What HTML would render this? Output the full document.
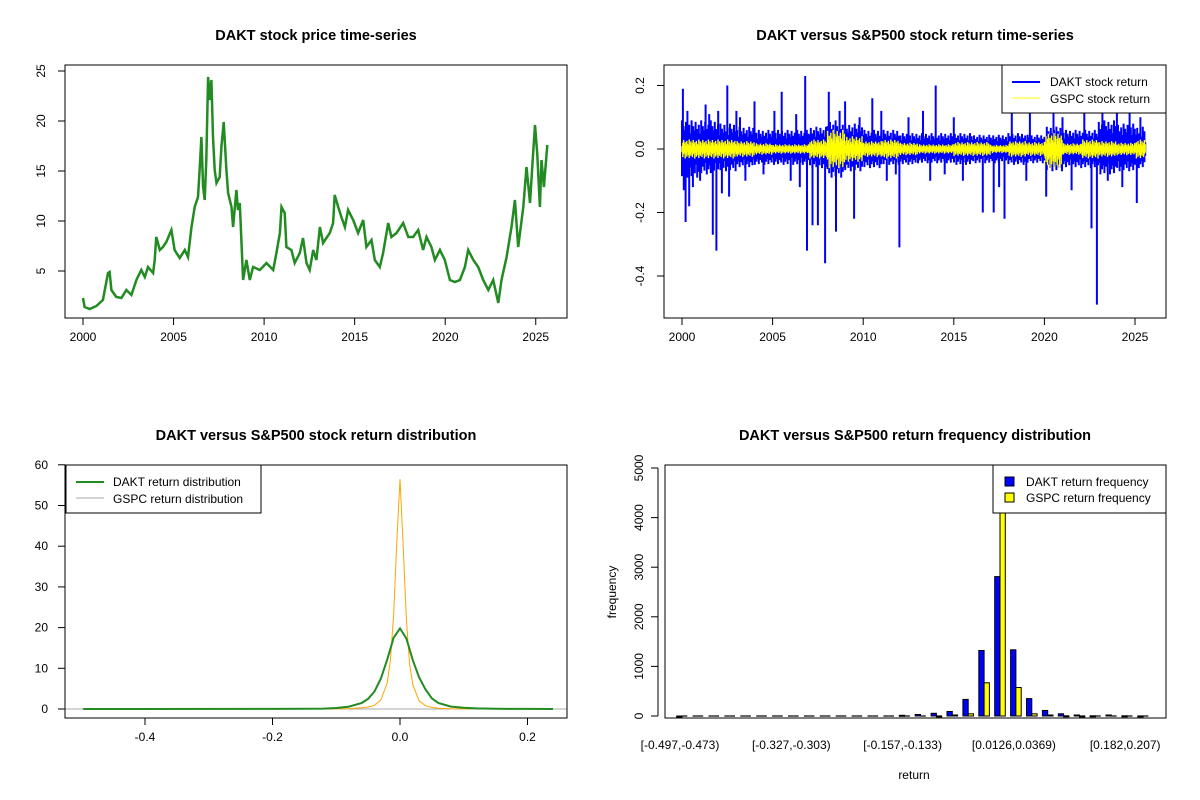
<!DOCTYPE html>
<html><head><meta charset="utf-8"><style>
html,body{margin:0;padding:0;background:#fff}
svg{display:block;font-family:"Liberation Sans",Arial,sans-serif}
</style></head><body>
<svg id="chart" width="1200" height="800" viewBox="0 0 1200 800"></svg>
<script>
// ---- Panel 1 data: DAKT price ----
const priceYears=[2000.00,2000.09,2000.37,2000.74,2001.10,2001.38,2001.47,2001.57,2001.84,2002.12,2002.39,2002.67,2002.95,2003.22,2003.41,2003.59,2003.87,2003.96,2004.05,2004.24,2004.42,2004.60,2004.88,2005.06,2005.34,2005.62,2005.80,2005.99,2006.17,2006.35,2006.45,2006.54,2006.63,2006.72,2006.81,2006.91,2007.00,2007.09,2007.18,2007.27,2007.37,2007.55,2007.64,2007.77,2007.92,2008.01,2008.20,2008.29,2008.47,2008.56,2008.66,2008.75,2008.84,2009.02,2009.21,2009.39,2009.76,2010.13,2010.50,2010.68,2010.87,2010.96,2011.14,2011.23,2011.51,2011.69,2011.97,2012.15,2012.34,2012.52,2012.71,2012.89,2013.08,2013.26,2013.63,2013.81,2013.90,2014.09,2014.27,2014.46,2014.64,2014.92,2015.19,2015.47,2015.65,2015.93,2016.11,2016.39,2016.57,2016.85,2017.03,2017.31,2017.68,2017.96,2018.23,2018.51,2018.78,2018.97,2019.24,2019.43,2019.71,2019.98,2020.26,2020.53,2020.81,2021.09,2021.27,2021.55,2021.82,2022.10,2022.38,2022.65,2022.93,2023.11,2023.39,2023.66,2023.85,2024.03,2024.31,2024.49,2024.68,2024.83,2024.96,2025.08,2025.23,2025.32,2025.45,2025.64];
const priceValues=[2.3,1.4,1.2,1.5,2.1,4.8,4.9,3.1,2.4,2.3,3.1,2.6,4.1,5.1,4.4,5.4,4.8,6.1,8.4,7.1,7.4,7.9,9.1,7.1,6.3,7.1,6.4,9.4,11.4,12.4,15.4,18.4,13.4,12.1,16.1,24.4,22.1,24.1,18.4,15.1,13.8,14.4,17.4,19.9,15.1,12.8,11.4,9.4,13.1,11.1,11.8,7.8,4.1,6.1,4.1,5.4,5.1,5.8,5.1,6.8,8.8,11.4,10.8,7.4,7.1,5.8,6.8,8.3,5.8,5.1,7.1,6.1,9.4,7.8,8.8,9.8,12.6,11.4,10.4,9.4,11.1,10.1,8.8,10.1,7.4,8.1,6.1,5.4,6.8,9.8,8.4,8.8,9.8,8.4,8.4,9.1,7.1,8.4,7.4,6.1,7.1,6.1,4.1,3.9,4.1,5.4,7.1,6.1,5.4,4.1,3.1,4.1,1.8,4.1,6.4,9.4,12.1,7.4,11.4,15.4,11.8,16.1,19.6,16.8,11.4,16.1,13.4,17.6];
const p1XTicks=[2000,2005,2010,2015,2020,2025];
const p1YTicks=[5,10,15,20,25];

// ---- Panel 2 data: returns ----
const envYears=[2000,2001,2002,2003,2004,2005,2006,2007,2008,2009,2010,2011,2012,2013,2014,2015,2016,2017,2018,2019,2020,2021,2022,2023,2024,2025];
const daktHi=[0.09,0.09,0.08,0.07,0.06,0.06,0.06,0.07,0.09,0.08,0.06,0.06,0.05,0.05,0.05,0.05,0.045,0.045,0.05,0.045,0.07,0.06,0.06,0.09,0.08,0.07];
const daktLo=[-0.09,-0.08,-0.07,-0.06,-0.05,-0.05,-0.05,-0.06,-0.09,-0.07,-0.06,-0.05,-0.05,-0.045,-0.045,-0.05,-0.045,-0.045,-0.05,-0.045,-0.07,-0.06,-0.06,-0.08,-0.07,-0.06];
const gspcHi=[0.03,0.03,0.03,0.025,0.018,0.015,0.015,0.03,0.06,0.04,0.025,0.03,0.02,0.015,0.015,0.022,0.022,0.013,0.025,0.022,0.05,0.018,0.03,0.025,0.02,0.03];
const gspcLo=[-0.03,-0.03,-0.03,-0.025,-0.018,-0.015,-0.015,-0.03,-0.06,-0.04,-0.025,-0.03,-0.02,-0.015,-0.015,-0.022,-0.022,-0.013,-0.025,-0.022,-0.06,-0.018,-0.03,-0.025,-0.02,-0.03];
const spikeYears=[2000.05,2000.1,2000.2,2000.3,2000.4,2000.6,2001.0,2001.3,2001.5,2001.7,2001.9,2002.0,2002.2,2002.5,2002.6,2003.0,2003.2,2003.5,2004.0,2004.5,2005.1,2005.5,2006.0,2006.3,2006.5,2006.8,2006.9,2007.2,2007.5,2007.9,2008.1,2008.5,2008.7,2009.0,2009.5,2009.8,2010.5,2011.0,2011.3,2011.8,2012.0,2012.5,2013.3,2013.7,2014.0,2014.5,2015.0,2015.5,2016.6,2017.2,2017.5,2017.8,2018.2,2019.0,2019.2,2020.1,2020.5,2021.0,2021.5,2022.2,2022.6,2022.9,2023.2,2023.5,2024.0,2024.3,2024.7,2025.1,2025.3];
const spikeValues=[0.19,-0.13,-0.23,0.12,-0.18,-0.12,-0.1,0.14,0.11,-0.27,-0.32,0.12,-0.14,0.2,-0.15,0.12,0.1,-0.1,0.15,-0.08,0.12,0.18,-0.1,0.11,-0.12,0.23,-0.32,-0.24,-0.24,-0.36,0.18,-0.26,0.12,0.15,-0.22,0.1,0.16,0.12,-0.1,-0.08,-0.31,0.1,0.12,-0.1,0.2,-0.08,0.1,-0.1,-0.2,-0.2,-0.12,-0.22,0.12,-0.1,0.13,-0.15,0.16,0.1,-0.13,0.12,-0.25,-0.49,0.18,-0.1,0.12,-0.12,0.18,-0.17,0.1];
const p2YTicks=[-0.4,-0.2,0.0,0.2];

// ---- Panel 3 data: densities ----
const daktDensX=[-0.497,-0.2,-0.15,-0.12,-0.1,-0.08,-0.06,-0.05,-0.04,-0.03,-0.02,-0.01,0,0.01,0.02,0.03,0.04,0.05,0.06,0.08,0.1,0.12,0.15,0.2,0.24];
const daktDensY=[0,0.02,0.05,0.1,0.25,0.6,1.5,2.5,4.3,7.5,12.2,17.5,19.8,17.3,12.0,7.8,4.8,2.6,1.5,0.6,0.3,0.15,0.05,0.02,0];
const gspcDensX=[-0.12,-0.08,-0.06,-0.05,-0.04,-0.03,-0.02,-0.015,-0.01,-0.005,0,0.005,0.01,0.015,0.02,0.03,0.04,0.05,0.06,0.08,0.11];
const gspcDensY=[0,0.1,0.3,0.5,0.9,2.2,6.5,12,23,41,56.5,40,22,11,6,2,0.8,0.4,0.2,0.05,0];
const p3XTicks=[-0.4,-0.2,0.0,0.2];
const p3YTicks=[0,10,20,30,40,50,60];

// ---- Panel 4 data: histogram ----
const binLabels=["[-0.497,-0.473)","[-0.327,-0.303)","[-0.157,-0.133)","[0.0126,0.0369)","[0.182,0.207)"];
const binLabelIdx=[0,7,14,21,28];
const daktFreq=[1,0,0,0,0,0,0,0,0,0,0,0,0,0,15,30,55,90,335,1320,2810,1335,350,110,45,20,5,20,5,2];
const gspcFreq=[0,0,0,0,0,0,0,0,0,0,0,0,0,0,0,0,3,20,45,670,4350,575,45,20,5,2,0,0,0,0];
const p4YTicks=[0,1000,2000,3000,4000,5000];

const NS="http://www.w3.org/2000/svg";
const svg=document.getElementById('chart');
function mk(tag,attrs,parent){const e=document.createElementNS(NS,tag);for(const k in attrs)e.setAttribute(k,attrs[k]);(parent||svg).appendChild(e);return e;}
function txt(s,x,y,attrs,parent){const t=mk('text',Object.assign({x:x,y:y,'font-size':12,fill:'#000'},attrs||{}),parent);t.textContent=s;return t;}
function group(name){const g=mk('g',{});return g;}
function fmt(v){return v===0?"0.0":v.toFixed(1);}

// ======== Panel 1 ========
(function(){
 const g=group('price-panel');
 const L=65,R=567,T=65,B=318;
 const sx=y=>83+(y-2000)*18.11, sy=v=>271-(v-5)*10;
 let pts=priceYears.map((y,i)=>sx(y).toFixed(1)+','+sy(priceValues[i]).toFixed(1)).join(' ');
 const line=mk('polyline',{points:pts,fill:'none',stroke:'#228B22','stroke-width':2.5,'stroke-linejoin':'miter'},g);
 
 
 const box=mk('rect',{x:L,y:T,width:R-L,height:B-T,fill:'none',stroke:'#000'},g);
 
 
 const xa=group('x-axis');g.appendChild(xa);
 mk('line',{x1:sx(2000),x2:sx(2025),y1:B,y2:B,stroke:'#000'},xa);
 p1XTicks.forEach(t=>{mk('line',{x1:sx(t),x2:sx(t),y1:B,y2:B+7,stroke:'#000'},xa);txt(String(t),sx(t),B+23,{'text-anchor':'middle'},xa);});
 const ya=group('y-axis');g.appendChild(ya);
 mk('line',{x1:L,x2:L,y1:sy(5),y2:sy(25),stroke:'#000'},ya);
 p1YTicks.forEach(t=>{mk('line',{x1:L-7,x2:L,y1:sy(t),y2:sy(t),stroke:'#000'},ya);txt(String(t),0,0,{'text-anchor':'middle',transform:`translate(${L-20},${sy(t)}) rotate(-90)`},ya);});
 const ti=txt('DAKT stock price time-series',316,40,{'text-anchor':'middle','font-weight':'bold','font-size':14.5},g);
 
 
})();

// ======== Panel 2 ========
(function(){
 const g=group('returns-panel');
 const L=664,R=1166,T=65,B=318;
 const sx=y=>682+(y-2000)*18.12, sy=v=>149-v*317.5;
 const x0=sx(2000), x1=sx(2025.6);
 const pat=[1,0.45,0.8,0.3,0.65,0.95,0.5,0.7,0.35,0.85,0.55,0.4];
 let dp='', gp='', n=0;
 for(let x=x0;x<=x1;x+=0.8,n++){
  const yr=2000+(x-682)/18.12;
  const i=Math.min(envYears.length-1,Math.max(0,Math.floor(yr-2000)));
  const fa=pat[n%pat.length], fb=pat[(n+5)%pat.length], fc=pat[(n+3)%pat.length], fd=pat[(n+8)%pat.length];
  dp+=`M${x.toFixed(1)},${sy(daktHi[i]*fa).toFixed(1)}V${sy(daktLo[i]*fb).toFixed(1)}`;
  gp+=`M${x.toFixed(1)},${sy(gspcHi[i]*fc).toFixed(1)}V${sy(gspcLo[i]*fd).toFixed(1)}`;
 }
 spikeYears.forEach((y,i)=>{dp+=`M${sx(y).toFixed(1)},${sy(0)}V${sy(spikeValues[i]).toFixed(1)}`;});
 const d=mk('path',{d:dp,stroke:'#0000FF','stroke-width':2,fill:'none'},g);
 
 
 const gs=mk('path',{d:gp,stroke:'#FFFF00','stroke-width':1.4,fill:'none'},g);
 
 
 const box=mk('rect',{x:L,y:T,width:R-L,height:B-T,fill:'none',stroke:'#000'},g);
 
 
 const xa=group('x-axis');g.appendChild(xa);
 mk('line',{x1:sx(2000),x2:sx(2025),y1:B,y2:B,stroke:'#000'},xa);
 p1XTicks.forEach(t=>{mk('line',{x1:sx(t),x2:sx(t),y1:B,y2:B+7,stroke:'#000'},xa);txt(String(t),sx(t),B+23,{'text-anchor':'middle'},xa);});
 const ya=group('y-axis');g.appendChild(ya);
 mk('line',{x1:L,x2:L,y1:sy(-0.4),y2:sy(0.2),stroke:'#000'},ya);
 p2YTicks.forEach(t=>{mk('line',{x1:L-7,x2:L,y1:sy(t),y2:sy(t),stroke:'#000'},ya);txt(fmt(t),0,0,{'text-anchor':'middle',transform:`translate(${L-20},${sy(t)}) rotate(-90)`},ya);});
 const lg=group('legend');g.appendChild(lg);
 mk('rect',{x:1002,y:65,width:164,height:48,fill:'#fff',stroke:'#000'},lg);
 mk('line',{x1:1012,x2:1040,y1:82,y2:82,stroke:'#0000FF','stroke-width':2},lg);
 mk('line',{x1:1012,x2:1040,y1:98,y2:98,stroke:'#FFFF00','stroke-width':1},lg);
 txt('DAKT stock return',1050,86,{},lg);
 txt('GSPC stock return',1050,103,{},lg);
 const ti=txt('DAKT versus S&P500 stock return time-series',915,40,{'text-anchor':'middle','font-weight':'bold','font-size':14.5},g);
 
 
})();

// ======== Panel 3 ========
(function(){
 const g=group('density-panel');
 const L=65,R=567,T=465,B=718;
 const sx=v=>400+v*637.5, sy=v=>709-v*4.07;
 const base=mk('line',{x1:L,x2:R,y1:sy(0),y2:sy(0),stroke:'#aaa'},g);
 
 
 const gl=mk('polyline',{points:gspcDensX.map((x,i)=>sx(x).toFixed(1)+','+sy(gspcDensY[i]).toFixed(1)).join(' '),fill:'none',stroke:'#FFA500','stroke-width':1},g);
 
 
 const dl=mk('polyline',{points:daktDensX.map((x,i)=>sx(x).toFixed(1)+','+sy(daktDensY[i]).toFixed(1)).join(' '),fill:'none',stroke:'#228B22','stroke-width':2},g);
 
 
 const box=mk('rect',{x:L,y:T,width:R-L,height:B-T,fill:'none',stroke:'#000'},g);
 
 
 const xa=group('x-axis');g.appendChild(xa);
 mk('line',{x1:sx(-0.4),x2:sx(0.2),y1:B,y2:B,stroke:'#000'},xa);
 p3XTicks.forEach(t=>{mk('line',{x1:sx(t),x2:sx(t),y1:B,y2:B+7,stroke:'#000'},xa);txt(fmt(t),sx(t),B+23,{'text-anchor':'middle'},xa);});
 const ya=group('y-axis');g.appendChild(ya);
 mk('line',{x1:L,x2:L,y1:sy(0),y2:sy(60),stroke:'#000'},ya);
 p3YTicks.forEach(t=>{mk('line',{x1:L-7,x2:L,y1:sy(t),y2:sy(t),stroke:'#000'},ya);txt(String(t),L-17,sy(t)+4,{'text-anchor':'end'},ya);});
 const lg=group('legend');g.appendChild(lg);
 mk('rect',{x:66,y:465,width:195,height:48,fill:'#fff',stroke:'#000'},lg);
 mk('line',{x1:76,x2:104,y1:482,y2:482,stroke:'#228B22','stroke-width':2},lg);
 mk('line',{x1:76,x2:104,y1:498,y2:498,stroke:'#aaa','stroke-width':1},lg);
 txt('DAKT return distribution',113,486,{},lg);
 txt('GSPC return distribution',113,503,{},lg);
 const ti=txt('DAKT versus S&P500 stock return distribution',316,440,{'text-anchor':'middle','font-weight':'bold','font-size':14.5},g);
 
 
})();

// ======== Panel 4 ========
(function(){
 const g=group('histogram-panel');
 const L=665,R=1166,T=465,B=718;
 const cx=k=>682+k*15.9, sy=v=>716-v*0.0496, bw=5.3;
 function bar(x,v,fill,name){
  if(v<=0){
   const l=mk('line',{x1:x.toFixed(1),x2:(x+bw).toFixed(1),y1:716,y2:716,stroke:'#000','stroke-width':1.2},g);
   
   
  } else {
   const r=mk('rect',{x:x.toFixed(1),y:sy(v).toFixed(1),width:bw,height:Math.max(1,716-sy(v)).toFixed(1),fill:fill,stroke:'#000','stroke-width':1},g);
   
   
  }
 }
 daktFreq.forEach((v,k)=>bar(cx(k)-bw,v,'#0000FF','dakt-bar'));
 gspcFreq.forEach((v,k)=>bar(cx(k),v,'#FFFF00','gspc-bar'));
 const box=mk('rect',{x:L,y:T,width:R-L,height:B-T,fill:'none',stroke:'#000'},g);
 
 
 const ya=group('y-axis');g.appendChild(ya);
 mk('line',{x1:658,x2:658,y1:sy(0),y2:sy(5000),stroke:'#000'},ya);
 p4YTicks.forEach(t=>{mk('line',{x1:651,x2:658,y1:sy(t),y2:sy(t),stroke:'#000'},ya);txt(String(t),0,0,{'text-anchor':'middle',transform:`translate(${643},${sy(t)}) rotate(-90)`},ya);});
 const xa=group('x-axis-labels');g.appendChild(xa);
 binLabelIdx.forEach((k,i)=>{txt(binLabels[i],cx(k)-2,749,{'text-anchor':'middle'},xa);});
 const xt=txt('return',914,779,{'text-anchor':'middle'},g);
 
 
 const yt=txt('frequency',0,0,{'text-anchor':'middle',transform:'translate(616,592) rotate(-90)'},g);
 
 
 const lg=group('legend');g.appendChild(lg);
 mk('rect',{x:993,y:465,width:173,height:48,fill:'#fff',stroke:'#000'},lg);
 mk('rect',{x:1005,y:477,width:9,height:9,fill:'#0000FF',stroke:'#000'},lg);
 mk('rect',{x:1005,y:493,width:9,height:9,fill:'#FFFF00',stroke:'#000'},lg);
 txt('DAKT return frequency',1026,486,{},lg);
 txt('GSPC return frequency',1026,502,{},lg);
 const ti=txt('DAKT versus S&P500 return frequency distribution',915,440,{'text-anchor':'middle','font-weight':'bold','font-size':14.5},g);
 
 
})();
</script>
</body></html>
